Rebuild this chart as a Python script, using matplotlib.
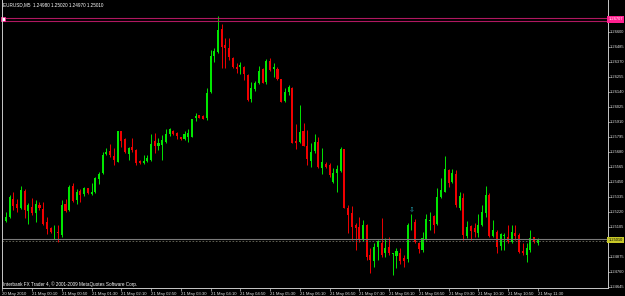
import matplotlib
matplotlib.use("Agg")
import matplotlib.pyplot as plt
import numpy as np

# EURUSD M5 bars, 20 May 2010 23:30 -> 21 May 2010 11:30
opens = [
    1.25266, 1.25153, 1.25184, 1.25319, 1.25281, 1.25253, 1.25381, 1.25227, 1.25260, 1.25214,
    1.25271, 1.25243, 1.25145, 1.25099, 1.25056, 1.25069, 1.25043, 1.25281, 1.25235, 1.25421,
    1.25312, 1.25383, 1.25355, 1.25401, 1.25355, 1.25375, 1.25473, 1.25516, 1.25664, 1.25690,
    1.25649, 1.25605, 1.25841, 1.25779, 1.25664, 1.25720, 1.25695, 1.25611, 1.25598, 1.25611,
    1.25618, 1.25764, 1.25728, 1.25733, 1.25759, 1.25815, 1.25841, 1.25823, 1.25792, 1.25777,
    1.25797, 1.25797, 1.25943, 1.25963, 1.25956, 1.25938, 1.26137, 1.26418, 1.26449, 1.26623,
    1.26500, 1.26475, 1.26403, 1.26329, 1.26329, 1.26334, 1.26270, 1.26086, 1.26163, 1.26206,
    1.26314, 1.26219, 1.26380, 1.26316, 1.26316, 1.26239, 1.26073, 1.26142, 1.26173, 1.25764,
    1.25759, 1.25841, 1.25728, 1.25613, 1.25687, 1.25759, 1.25555, 1.25585, 1.25580, 1.25452,
    1.25516, 1.25537, 1.25703, 1.25253, 1.25210, 1.25120, 1.25107, 1.25005, 1.25120, 1.24890,
    1.24846, 1.24949, 1.24980, 1.24903, 1.24949, 1.24895, 1.24885, 1.24903, 1.24865, 1.24857,
    1.25133, 1.25145, 1.24980, 1.24928, 1.25010, 1.25151, 1.25189, 1.25125, 1.25332, 1.25375,
    1.25542, 1.25447, 1.25509, 1.25253, 1.25329, 1.25036, 1.25112, 1.25095, 1.25056, 1.25120,
    1.25214, 1.25350, 1.25036, 1.25069, 1.24959, 1.25036, 1.25030, 1.24992, 1.25056, 1.25043,
    1.24921, 1.24890, 1.24928, 1.25026, 1.24980,
]
highs = [
    1.25273, 1.25222, 1.25350, 1.25375, 1.25317, 1.25419, 1.25394, 1.25286, 1.25329, 1.25312,
    1.25294, 1.25299, 1.25179, 1.25107, 1.25120, 1.25120, 1.25312, 1.25317, 1.25427, 1.25440,
    1.25394, 1.25394, 1.25414, 1.25406, 1.25440, 1.25490, 1.25529, 1.25682, 1.25708, 1.25741,
    1.25708, 1.25841, 1.25841, 1.25785, 1.25720, 1.25789, 1.25700, 1.25618, 1.25657, 1.25657,
    1.25818, 1.25823, 1.25785, 1.25810, 1.25854, 1.25861, 1.25848, 1.25835, 1.25797, 1.25841,
    1.25854, 1.25936, 1.25981, 1.25967, 1.25960, 1.26173, 1.26462, 1.26475, 1.26722, 1.26659,
    1.26551, 1.26551, 1.26408, 1.26360, 1.26372, 1.26339, 1.26275, 1.26219, 1.26224, 1.26341,
    1.26321, 1.26390, 1.26403, 1.26360, 1.26334, 1.26243, 1.26168, 1.26193, 1.26178, 1.25892,
    1.26040, 1.25900, 1.25848, 1.25746, 1.25818, 1.25797, 1.25708, 1.25605, 1.25595, 1.25555,
    1.25580, 1.25720, 1.25706, 1.25273, 1.25268, 1.25133, 1.25184, 1.25158, 1.25124, 1.24941,
    1.24980, 1.25005, 1.25171, 1.25018, 1.25030, 1.24908, 1.24941, 1.24941, 1.24890, 1.25133,
    1.25204, 1.25166, 1.24992, 1.25069, 1.25204, 1.25222, 1.25197, 1.25401, 1.25478, 1.25649,
    1.25547, 1.25547, 1.25542, 1.25375, 1.25363, 1.25151, 1.25120, 1.25133, 1.25204, 1.25273,
    1.25419, 1.25363, 1.25158, 1.25082, 1.25056, 1.25056, 1.25120, 1.25120, 1.25120, 1.25056,
    1.24980, 1.24980, 1.25082, 1.25030, 1.25020,
]
lows = [
    1.25158, 1.25145, 1.25177, 1.25235, 1.25222, 1.25240, 1.25171, 1.25128, 1.25197, 1.25145,
    1.25235, 1.25120, 1.25051, 1.25061, 1.25010, 1.24992, 1.25030, 1.25217, 1.25231, 1.25299,
    1.25279, 1.25299, 1.25342, 1.25358, 1.25350, 1.25363, 1.25432, 1.25511, 1.25657, 1.25639,
    1.25580, 1.25605, 1.25720, 1.25670, 1.25618, 1.25682, 1.25580, 1.25585, 1.25588, 1.25605,
    1.25613, 1.25670, 1.25695, 1.25618, 1.25751, 1.25802, 1.25810, 1.25779, 1.25772, 1.25772,
    1.25759, 1.25795, 1.25917, 1.25938, 1.25929, 1.25925, 1.26130, 1.26372, 1.26436, 1.26321,
    1.26321, 1.26385, 1.26324, 1.26283, 1.26275, 1.26232, 1.26071, 1.26065, 1.26147, 1.26199,
    1.26206, 1.26199, 1.26301, 1.26257, 1.26232, 1.26065, 1.26061, 1.26117, 1.25749, 1.25703,
    1.25746, 1.25726, 1.25580, 1.25567, 1.25670, 1.25555, 1.25509, 1.25555, 1.25490, 1.25440,
    1.25375, 1.25529, 1.25251, 1.25056, 1.25005, 1.24928, 1.24992, 1.25001, 1.24852, 1.24750,
    1.24800, 1.24852, 1.24877, 1.24877, 1.24890, 1.24737, 1.24788, 1.24821, 1.24800, 1.24839,
    1.25082, 1.24980, 1.24903, 1.24915, 1.25005, 1.25082, 1.25061, 1.25120, 1.25325, 1.25371,
    1.25414, 1.25440, 1.25260, 1.25235, 1.25005, 1.25018, 1.25005, 1.25030, 1.25030, 1.25112,
    1.25184, 1.25030, 1.25026, 1.24903, 1.24928, 1.24928, 1.24980, 1.24980, 1.25005, 1.24903,
    1.24890, 1.24839, 1.24915, 1.24980, 1.24970,
]
closes = [
    1.25164, 1.25184, 1.25332, 1.25266, 1.25248, 1.25388, 1.25235, 1.25271, 1.25210, 1.25281,
    1.25248, 1.25128, 1.25087, 1.25066, 1.25061, 1.25056, 1.25271, 1.25227, 1.25411, 1.25304,
    1.25371, 1.25350, 1.25401, 1.25363, 1.25371, 1.25478, 1.25511, 1.25657, 1.25682, 1.25657,
    1.25618, 1.25841, 1.25764, 1.25677, 1.25713, 1.25695, 1.25598, 1.25593, 1.25613, 1.25634,
    1.25741, 1.25726, 1.25746, 1.25772, 1.25815, 1.25854, 1.25815, 1.25802, 1.25779, 1.25815,
    1.25823, 1.25933, 1.25958, 1.25940, 1.25930, 1.26134, 1.26416, 1.26454, 1.26615, 1.26487,
    1.26479, 1.26410, 1.26329, 1.26314, 1.26347, 1.26278, 1.26078, 1.26168, 1.26206, 1.26301,
    1.26211, 1.26380, 1.26308, 1.26329, 1.26239, 1.26065, 1.26137, 1.26180, 1.25751, 1.25751,
    1.25831, 1.25728, 1.25626, 1.25677, 1.25754, 1.25567, 1.25601, 1.25567, 1.25503, 1.25516,
    1.25549, 1.25703, 1.25253, 1.25197, 1.25107, 1.25099, 1.25010, 1.25120, 1.24877, 1.24852,
    1.24949, 1.24997, 1.24890, 1.24941, 1.24903, 1.24903, 1.24921, 1.24846, 1.24846, 1.25120,
    1.25138, 1.24992, 1.24934, 1.25018, 1.25166, 1.25158, 1.25120, 1.25332, 1.25388, 1.25549,
    1.25440, 1.25516, 1.25273, 1.25342, 1.25043, 1.25107, 1.25074, 1.25064, 1.25120, 1.25222,
    1.25350, 1.25038, 1.25082, 1.24954, 1.25049, 1.25043, 1.24997, 1.25064, 1.25036, 1.24915,
    1.24903, 1.24941, 1.25018, 1.24992, 1.25010,
]

time_labels = [
    "20 May 2010", "21 May 00:10", "21 May 00:50", "21 May 01:30", "21 May 02:10",
    "21 May 02:50", "21 May 03:30", "21 May 04:10", "21 May 04:50", "21 May 05:30",
    "21 May 06:10", "21 May 06:50", "21 May 07:30", "21 May 08:10", "21 May 08:50",
    "21 May 09:30", "21 May 10:10", "21 May 10:50", "21 May 11:30",
]
price_labels = [
    "1.24645", "1.24760", "1.24875", "1.25105", "1.25220", "1.25335", "1.25450",
    "1.25565", "1.25680", "1.25795", "1.25910", "1.26025", "1.26140", "1.26255",
    "1.26370", "1.26485", "1.26600",
]

header = "EURUSD,M5  1.24980 1.25020 1.24970 1.25010"
footer = "Interbank FX Trader 4, \u00a9 2001-2009 MetaQuotes Software Corp."
pink_levels = [1.26707, 1.26684]
grey_level = 1.25011
bid_level = 1.24995
bid_text = "1.25010"
pink_text = "1.26707"
arrow_bar = 110
arrow_price = 1.25235

plt.rcParams["font.family"] = ["Liberation Sans", "DejaVu Sans"]

o = np.array(opens)
h = np.array(highs)
l = np.array(lows)
c = np.array(closes)
idx = np.arange(len(o))
up = c >= o

bull_col = "#00e600"
bear_col = "#f00000"
fg = "#c8c8c8"
axis_fs = 2.85

fig = plt.figure(figsize=(6.25, 2.96), dpi=100, facecolor="black")
ax = fig.add_axes([2 / 625, 8 / 296, 605.7 / 625, 288 / 296])
ax.set_facecolor("black")

colors = np.where(up, bull_col, bear_col)
ax.vlines(idx, l, h, colors=colors, lw=0.7)
body_lo = np.minimum(o, c)
body_h = np.maximum(np.abs(c - o), 0.00003)
ax.bar(idx, body_h, bottom=body_lo, width=0.55, color=colors, linewidth=0)

# horizontal objects
for lev in pink_levels:
    ax.axhline(lev, color="#b01860", lw=0.8)
ax.axhline(grey_level, color="#7a7a7a", lw=0.8)
ax.axhline(bid_level, color="#707060", lw=0.6, ls=(0, (2, 2)))
ax.plot([0.3], [np.mean(pink_levels)], marker="s", ms=2.2, mfc="white", mec="#ff2090", mew=0.6,
        clip_on=False)

ax.text(arrow_bar, arrow_price, "\u21e9", color="#20a8b8", fontsize=5,
        ha="center", va="center", family="DejaVu Sans")

ax.set_xlim(-0.08, 162.8)
ax.set_ylim(1.26845 - 0.00007667 * 288, 1.26845)

for side in ["left", "right", "bottom"]:
    ax.spines[side].set_color(fg)
    ax.spines[side].set_linewidth(0.7)
ax.spines["top"].set_visible(False)

ax.yaxis.tick_right()
ax.set_yticks([float(p) for p in price_labels])
ax.set_yticklabels(price_labels, fontsize=axis_fs, color="#e0e0e0")
ax.tick_params(axis="y", length=1.2, width=0.5, color=fg, pad=0.4)

ax.set_xticks(np.arange(len(time_labels)) * 8)
ax.set_xticklabels(time_labels, fontsize=3.1, color="#e0e0e0", ha="left")
ax.tick_params(axis="x", length=2, width=0.5, color=fg, pad=0.6)

ytr = ax.get_yaxis_transform()
ax.text(1.0009, np.mean(pink_levels), pink_text, transform=ytr, fontsize=axis_fs, color="white",
        ha="left", va="center", clip_on=False,
        bbox=dict(boxstyle="square,pad=0.3", fc="#ff2090", ec="none"))
ax.text(1.0009, bid_level + 0.00008, bid_text, transform=ytr, fontsize=axis_fs, color="black",
        ha="left", va="center", clip_on=False,
        bbox=dict(boxstyle="square,pad=0.3", fc="#c8c828", ec="none"))

fig.text(3 / 625, 1 - 5 / 296, header, fontsize=3.3, color="white", va="center")
ax.text(0.002, 4 / 288, footer, transform=ax.transAxes, fontsize=3.3, color="white",
        va="center")

fig.savefig("out.png", dpi=100, facecolor="black")
